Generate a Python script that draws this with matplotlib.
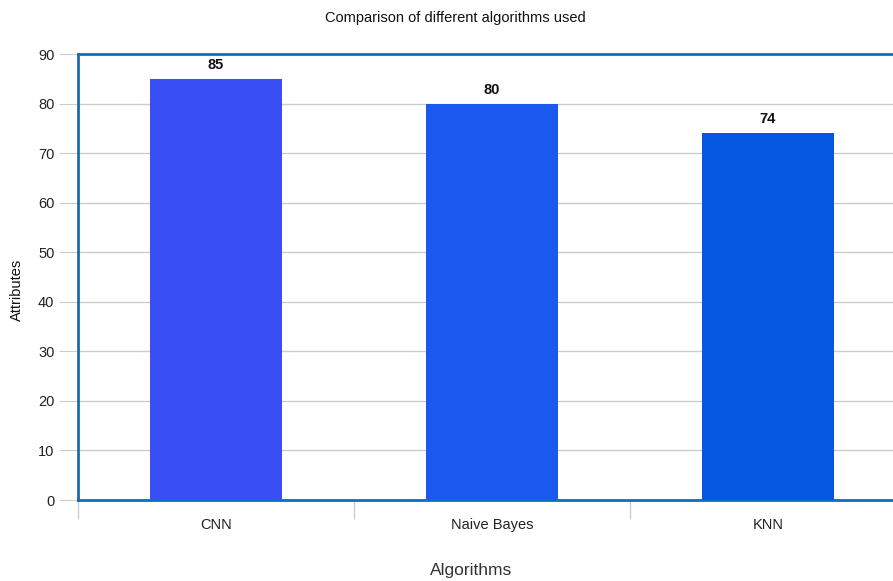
import matplotlib.pyplot as plt
import numpy as np

plt.rcParams['font.family'] = ['Liberation Sans', 'DejaVu Sans']

algorithms = ['CNN', 'Naive Bayes', 'KNN']
scores = [85, 80, 74]
bar_colors = ['#3a4ef5', '#1b58f0', '#0357e0']
yticks = [0, 10, 20, 30, 40, 50, 60, 70, 80, 90]

fig = plt.figure(figsize=(8.93, 5.81), dpi=100)
# axes runs past the right edge of the picture, as in the reference
ax = fig.add_axes([78 / 893, 81 / 581, 828 / 893, 446 / 581])

x = np.arange(len(algorithms))
bars = ax.bar(x, scores, width=0.48, color=bar_colors, zorder=3)
for b, v in zip(bars, scores):
    ax.annotate(str(v), (b.get_x() + b.get_width() / 2, v), xytext=(0, 5),
                textcoords='offset points', ha='center', va='bottom',
                fontsize=10.5, fontweight='bold', color='#111111')

ax.set_xlim(-0.5, len(algorithms) - 0.5)
ax.set_ylim(0, 90)
ax.set_yticks(yticks)
ax.grid(axis='y', color='#cccccc', linewidth=1, zorder=0)

for s in ax.spines.values():
    s.set_color('#0b6fc4')
    s.set_linewidth(2)

ax.tick_params(axis='y', length=14, color='#cccccc', labelsize=10.5, pad=3,
               labelcolor='#222222')
ax.set_xticks(x)
ax.set_xticklabels(algorithms, fontsize=10.5, color='#222222')
ax.tick_params(axis='x', length=0, pad=13)
# category separators below the axis
ax.set_xticks(np.arange(len(algorithms) + 1) - 0.5, minor=True)
ax.tick_params(axis='x', which='minor', length=14, color='#cccccc', width=1)

fig.text(455 / 893, 1 - 18 / 581, 'Comparison of different algorithms used',
         fontsize=10.5, ha='center', va='center', color='#111111')
fig.text(17 / 893, 1 - 290 / 581, 'Attributes', fontsize=10.5, rotation=90,
         ha='center', va='center', color='#111111')
fig.text(471 / 893, 1 - 570 / 581, 'Algorithms', fontsize=12.5,
         ha='center', va='center', color='#333333')

fig.savefig('out.png', dpi=100)
